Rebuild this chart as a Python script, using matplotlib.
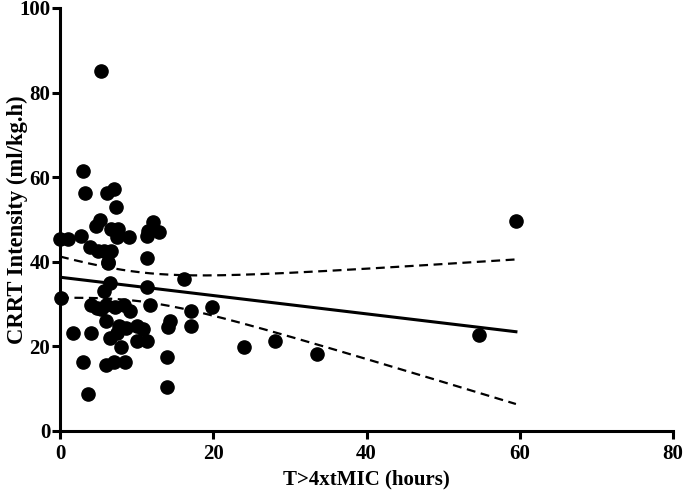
import numpy as np
import matplotlib
matplotlib.use("Agg")
import matplotlib.pyplot as plt

plt.rcParams['font.family'] = ['Liberation Serif', 'DejaVu Serif']
plt.rcParams['font.weight'] = 'bold'

# T>4xtMIC (hours) vs CRRT intensity (ml/kg.h)
t_mic = [5.3, 3.0, 3.2, 6.1, 7.0, 7.3, 5.2, 4.7, 6.7, 7.6, 7.4, 9.0, 2.8, 0.0, 1.1,
         12.2, 11.5, 12.9, 11.4, 3.9, 5.0, 5.7, 6.7, 11.3, 6.3,
         6.3, 16.2, 6.5, 11.3, 5.7, 0.1, 4.1, 4.8, 5.4, 6.0, 7.2, 8.4, 9.1, 11.7,
         17.1, 6.0, 7.7, 8.6, 10.1, 10.8, 14.4, 14.1, 17.1, 1.7, 4.1, 7.4, 6.5,
         10.0, 11.4, 8.0, 3.0, 6.0, 7.0, 8.5, 13.9, 13.9, 3.7,
         59.5, 19.8, 24.0, 28.1, 33.5, 54.7]
crrt = [85.0, 61.5, 56.2, 56.2, 57.1, 53.0, 49.9, 48.5, 47.8, 47.8, 45.9, 45.9, 46.2, 45.5, 45.5,
        49.3, 47.2, 47.0, 46.0, 43.6, 42.6, 42.6, 42.6, 41.0, 40.0,
        39.6, 35.9, 34.9, 34.0, 33.1, 31.4, 29.8, 29.0, 28.8, 29.8, 29.2, 29.8, 28.4, 29.8,
        28.4, 25.9, 24.9, 24.4, 24.9, 24.1, 25.9, 24.7, 24.8, 23.2, 23.2, 23.2, 21.9,
        21.3, 21.3, 19.8, 16.4, 15.6, 16.4, 16.4, 17.4, 10.3, 8.7,
        49.7, 29.2, 19.8, 21.2, 18.1, 22.8]

x = np.array(t_mic)
y = np.array(crrt)

# linear fit with 95% confidence band
n = len(x)
slope, intercept = np.polyfit(x, y, 1)
xs = np.linspace(0, x.max(), 200)
ys = intercept + slope * xs
resid = y - (intercept + slope * x)
s = np.sqrt(np.sum(resid ** 2) / (n - 2))
sxx = np.sum((x - x.mean()) ** 2)
tval = 1.996
half = tval * s * np.sqrt(1.0 / n + (xs - x.mean()) ** 2 / sxx)

fig = plt.figure(figsize=(6.85, 4.91), dpi=100)
ax = fig.add_axes([60 / 685, 1 - 431 / 491, 613 / 685, 423 / 491])

ax.plot(x, y, 'o', color='black', markersize=9.5, clip_on=False, zorder=3)
ax.plot(xs, ys, color='black', linewidth=2.2)
ax.plot(xs, ys + half, color='black', linewidth=1.6, linestyle=(0, (4, 2.5)))
ax.plot(xs, ys - half, color='black', linewidth=1.6, linestyle=(0, (4, 2.5)))

ax.set_xlim(0, 80)
ax.set_ylim(0, 100)
ax.set_xticks([0, 20, 40, 60, 80])
ax.set_yticks([0, 20, 40, 60, 80, 100])
for side in ['top', 'right']:
    ax.spines[side].set_visible(False)
for side in ['left', 'bottom']:
    ax.spines[side].set_linewidth(2.2)
ax.tick_params(width=2.2, length=6, labelsize=15)
ax.tick_params(axis='y', pad=1)
for lab in ax.get_xticklabels() + ax.get_yticklabels():
    lab.set_fontweight('bold')

ax.set_xlabel('T>4xtMIC (hours)', fontsize=15, fontweight='bold')
ax.set_ylabel('CRRT Intensity (ml/kg.h)', fontsize=16.3, fontweight='bold')
ax.yaxis.set_label_coords(-0.053, 0.5)

fig.savefig('out.png', dpi=100)
